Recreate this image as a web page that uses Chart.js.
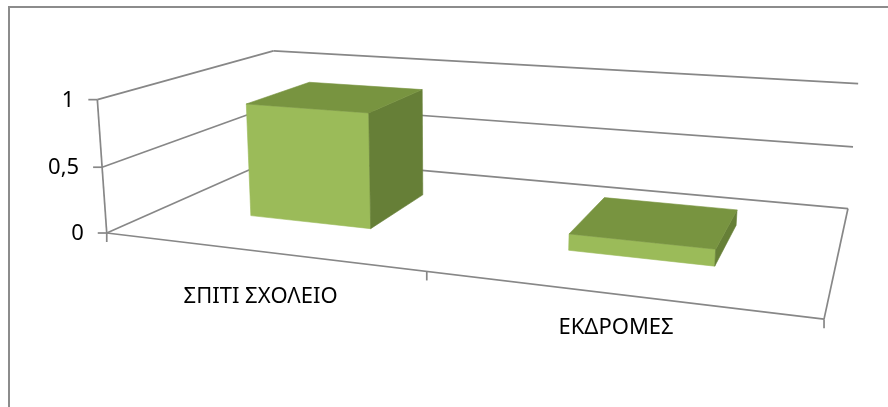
<!DOCTYPE html>
<html>
<head>
<meta charset="utf-8">
<script src="https://cdn.jsdelivr.net/npm/chart.js@4.4.0/dist/chart.umd.min.js"></script>
<style>
  html, body { margin: 0; padding: 0; background: #fff; }
  #wrap { width: 888px; height: 407px; position: relative; }
</style>
</head>
<body>
<div id="wrap"><canvas id="chart"></canvas></div>
<script>
const categories = ['ΣΠΙΤΙ ΣΧΟΛΕΙΟ', 'ΕΚΔΡΟΜΕΣ'];
const values = [0.88, 0.12];
const yTicks = [0, 0.5, 1];

// where the corners of the 3d box land on screen: [x, value, depth, px, py]
const frame = [
    [0, 0, 0, 107, 233],
    [1, 0, 0, 824, 319],
    [0.5, 0, 0, 427, 271.5],
    [0, 0, 1, 276, 157],
    [1, 0, 1, 848, 209],
    [0, 1, 0, 97, 100],
    [0, 0.5, 0, 102, 167],
    [0, 1, 1, 273, 51],
    [0, 0.5, 1, 277, 105],
    [1, 1, 1, 858, 83],
    [1, 0.5, 1, 853, 147],
];

const barDepth = [0.3, 0.7];
const gridColor = '#878787';
const font = '22px "Noto Sans"';

// least squares fit of a 3x4 projection matrix to the frame points
function fitProjection(pts) {
    const A = [], b = [];
    pts.forEach(([X, Y, Z, u, v]) => {
        A.push([X, Y, Z, 1, 0, 0, 0, 0, -u * X, -u * Y, -u * Z]); b.push(u);
        A.push([0, 0, 0, 0, X, Y, Z, 1, -v * X, -v * Y, -v * Z]); b.push(v);
    });
    const n = 11;
    const M = [];
    for (let i = 0; i < n; i++) {
        M.push([]);
        for (let j = 0; j <= n; j++) {
            let s = 0;
            for (let k = 0; k < A.length; k++) s += A[k][i] * (j < n ? A[k][j] : b[k]);
            M[i].push(s);
        }
    }
    for (let c = 0; c < n; c++) {
        let p = c;
        for (let r = c + 1; r < n; r++) if (Math.abs(M[r][c]) > Math.abs(M[p][c])) p = r;
        [M[c], M[p]] = [M[p], M[c]];
        for (let r = 0; r < n; r++) {
            if (r === c) continue;
            const f = M[r][c] / M[c][c];
            for (let j = c; j <= n; j++) M[r][j] -= f * M[c][j];
        }
    }
    const p = M.map((row, i) => row[n] / row[i]);
    return (X, Y, Z) => {
        const w = p[8] * X + p[9] * Y + p[10] * Z + 1;
        return [(p[0] * X + p[1] * Y + p[2] * Z + p[3]) / w,
                (p[4] * X + p[5] * Y + p[6] * Z + p[7]) / w];
    };
}

const proj = fitProjection(frame);

const box3d = {
    id: 'box3d',
    afterDraw(chart) {
        const ctx = chart.ctx;
        const area = chart.chartArea;
        const xs = chart.scales.x, ys = chart.scales.y;
        const wx = (px) => (px - area.left) / area.width;
        const wy = (py) => (area.bottom - py) / area.height;

        const line = (a, b) => {
            const p = proj(...a), q = proj(...b);
            ctx.beginPath();
            ctx.moveTo(p[0], p[1]);
            ctx.lineTo(q[0], q[1]);
            ctx.stroke();
        };
        const poly = (pts, color) => {
            ctx.beginPath();
            pts.forEach((pt, i) => {
                const p = proj(...pt);
                i ? ctx.lineTo(p[0], p[1]) : ctx.moveTo(p[0], p[1]);
            });
            ctx.closePath();
            ctx.fillStyle = color;
            ctx.strokeStyle = color;
            ctx.lineWidth = 0.6;
            ctx.fill();
            ctx.stroke();
        };

        ctx.save();

        // outer border
        ctx.strokeStyle = '#8c8c8c';
        ctx.lineWidth = 2;
        ctx.strokeRect(9, 7, 1000, 1000);

        // walls and floor
        ctx.strokeStyle = gridColor;
        ctx.lineWidth = 1.7;
        ys.ticks.forEach((t) => {
            const v = wy(ys.getPixelForValue(t.value));
            line([0, v, 0], [0, v, 1]);
            line([0, v, 1], [1, v, 1]);
        });
        line([0, 0, 0], [0, 1, 0]);
        line([0, 0, 0], [1, 0, 0]);
        line([1, 0, 0], [1, 0, 1]);

        // tick marks and labels
        ctx.font = font;
        ctx.fillStyle = '#000';
        ctx.textAlign = 'right';
        ctx.textBaseline = 'middle';
        ys.ticks.forEach((t) => {
            const v = wy(ys.getPixelForValue(t.value));
            const p = proj(0, v, 0);
            ctx.beginPath();
            ctx.moveTo(p[0] - 9, p[1]);
            ctx.lineTo(p[0], p[1]);
            ctx.stroke();
            ctx.fillText(t.label, p[0] - 23, p[1] + 1);
        });
        const n = categories.length;
        for (let i = 0; i <= n; i++) {
            const p = proj(i / n, 0, 0);
            ctx.beginPath();
            ctx.moveTo(p[0], p[1]);
            ctx.lineTo(p[0], p[1] + 9);
            ctx.stroke();
        }
        ctx.textAlign = 'center';
        categories.forEach((c, i) => {
            const u = wx(xs.getPixelForValue(i));
            const p = proj(u, 0, 0);
            ctx.fillText(c, p[0] + 2, p[1] + 45 - 22 * (u - 0.25));
        });

        // bars
        const [z0, z1] = barDepth;
        chart.getDatasetMeta(0).data.forEach((el) => {
            const x0 = wx(el.x - el.width / 2), x1 = wx(el.x + el.width / 2);
            const y0 = wy(el.base), y1 = wy(el.y);
            poly([[x0, y0, z0], [x1, y0, z0], [x1, y1, z0], [x0, y1, z0]], '#9bbb59');
            poly([[x1, y0, z0], [x1, y0, z1], [x1, y1, z1], [x1, y1, z0]], '#667f37');
            poly([[x0, y1, z0], [x1, y1, z0], [x1, y1, z1], [x0, y1, z1]], '#789440');
        });

        ctx.restore();
    },
};

new Chart(document.getElementById('chart'), {
    type: 'bar',
    data: {
        labels: categories,
        datasets: [{
            data: values,
            backgroundColor: 'rgba(0,0,0,0)',
            categoryPercentage: 1,
            barPercentage: 0.4,
        }],
    },
    options: {
        responsive: true,
        maintainAspectRatio: false,
        animation: false,
        layout: { padding: 0 },
        plugins: { legend: { display: false }, tooltip: { enabled: false } },
        scales: {
            x: { display: false },
            y: {
                display: false,
                min: 0,
                max: 1,
                afterBuildTicks: (s) => { s.ticks = yTicks.map((v) => ({ value: v })); },
                ticks: { callback: (v) => String(v).replace('.', ',') },
            },
        },
    },
    plugins: [box3d],
});
</script>
</body>
</html>
